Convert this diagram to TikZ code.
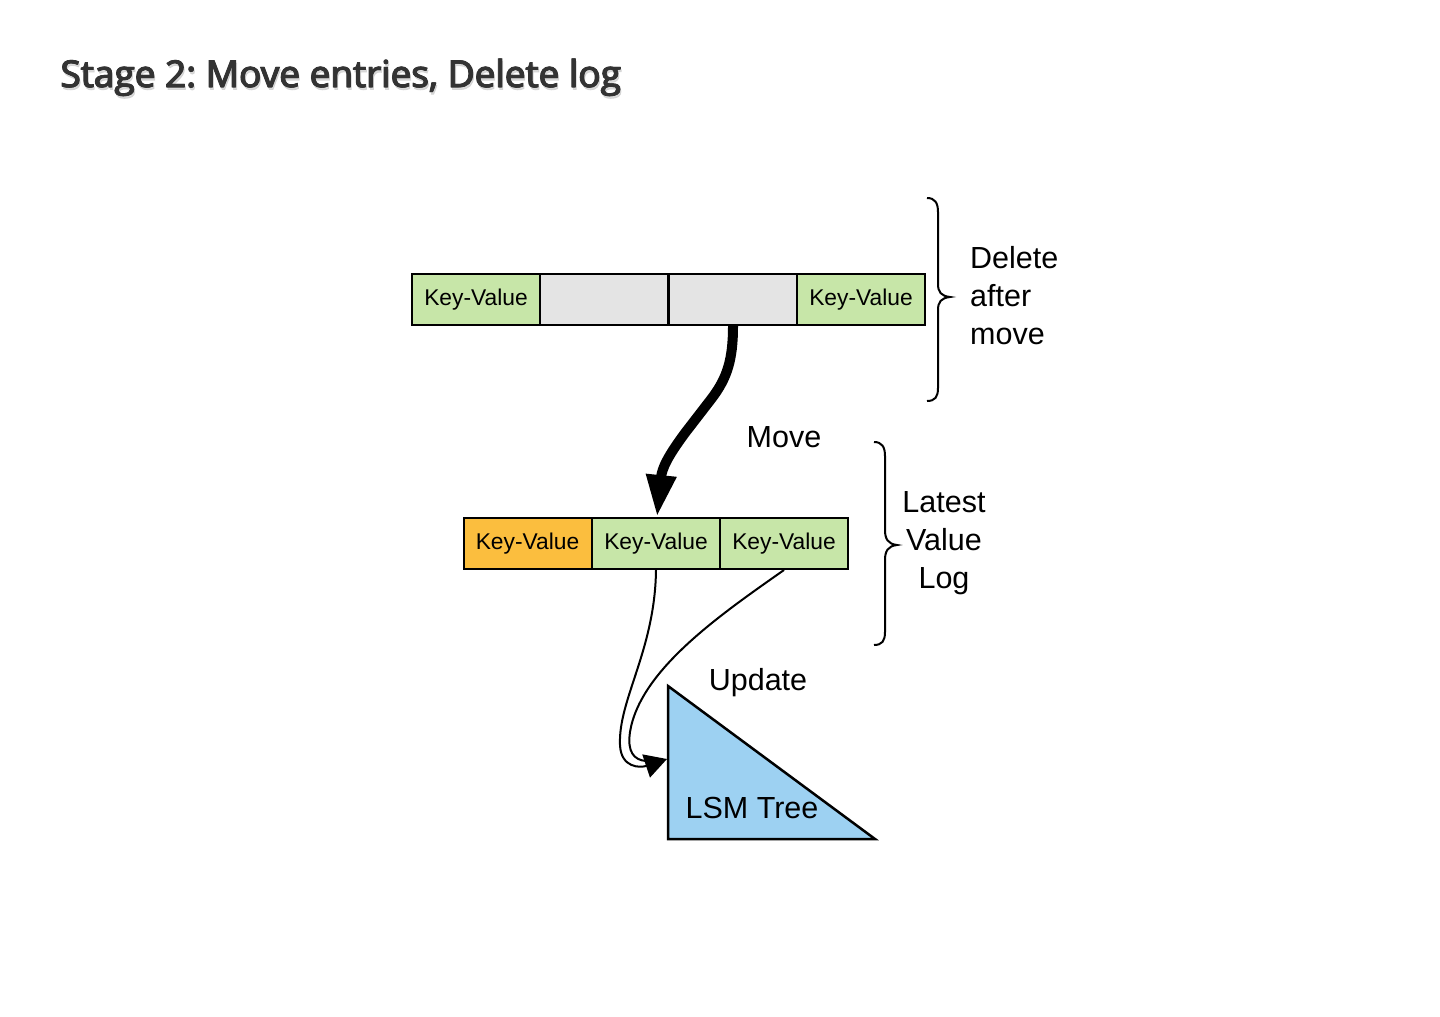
\documentclass[tikz,border=0pt]{standalone}
\usepackage{fontspec}
\setmainfont{Liberation Sans}
\newfontfamily\titlefont[UprightFeatures={FakeBold=2.2}]{Open Sans}
\usetikzlibrary{arrows.meta}
\definecolor{kvgreen}{HTML}{C7E6A8}
\definecolor{kvgray}{HTML}{E4E4E4}
\definecolor{kvorange}{HTML}{FBBE3E}
\definecolor{lsmblue}{HTML}{9DD1F2}
\definecolor{titlegray}{HTML}{333333}
\tikzset{
  cell/.style={draw=black, line width=2pt, minimum width=128pt, minimum height=51pt,
    inner sep=0pt, font=\fontsize{22.8}{26}\selectfont},
  lbl/.style={font=\fontsize{30.5}{38}\selectfont, inner sep=0pt},
  bracepath/.style={draw=black, line width=2pt},
  thin/.style={draw=black, line width=2pt},
  titletext/.style={anchor=base west, inner sep=0pt, font=\titlefont\fontsize{37}{44}\selectfont}
}
\begin{document}
\frenchspacing
\begin{tikzpicture}[x=1pt,y=-1pt]
\useasboundingbox (0,0) rectangle (1440,1017);
\fill[white] (0,0) rectangle (1440,1017);
% title
\node[titletext, text=black!20, opacity=0.7] (titleshadow) at (61.5,89.5) {Stage 2: Move entries, Delete log};
\node[titletext, text=titlegray] (titlebold) at (60.6,87) {Stage 2: Move entries, Delete log};
\node[titletext, text=titlegray] (title) at (60,87) {Stage 2: Move entries, Delete log};
% top bar
\node[cell, fill=kvgreen] (t1) at (476,299.5) {Key-Value};
\node[cell, fill=kvgray]  (t2) at (604,299.5) {};
\node[cell, fill=kvgray]  (t3) at (732.5,299.5) {};
\node[cell, fill=kvgreen] (t4) at (861,299.5) {Key-Value};
% middle bar
\node[cell, fill=kvorange] (m1) at (527.5,543.5) {Key-Value};
\node[cell, fill=kvgreen]  (m2) at (656,543.5) {Key-Value};
\node[cell, fill=kvgreen]  (m3) at (784,543.5) {Key-Value};
% LSM tree
\coordinate (lsmtop) at (668,686);
\coordinate (lsmbl) at (668,839);
\coordinate (lsmbr) at (875,839);
\filldraw[fill=lsmblue, draw=black, line width=2.5pt, line join=miter] (lsmtop) -- (lsmbl) -- (lsmbr) -- cycle;
\node[lbl] (lsm) at (752,808) {LSM Tree};
% braces
\draw[bracepath] (927,198) .. controls (935,198) and (938,203) .. (938,212) -- (938,284)
  .. controls (938,292) and (941,296) .. (950,297) .. controls (941,298) and (938,302) .. (938,310)
  -- (938,388) .. controls (938,397) and (935,401) .. (927,401);
\draw[bracepath] (874,442) .. controls (882,442) and (885,447) .. (885,456) -- (885,530)
  .. controls (885,539) and (888,544) .. (897,545) .. controls (888,546) and (885,551) .. (885,560)
  -- (885,632) .. controls (885,641) and (882,645) .. (874,645);
% labels
\node[lbl, anchor=west, align=left] (dam) at (970,296) {Delete\\after\\move};
\node[lbl, align=center] (lvl) at (944,543) {Latest\\Value\\Log};
\node[lbl] (move) at (784,437) {Move};
\node[lbl] (upd) at (758,683) {Update};
% move arrow
\coordinate (mvstart) at (t3.south -| 733,0);
\coordinate (mvend) at (m2.north -| 657,0);
\draw[line width=10pt, line join=round, -{Triangle[length=42pt,width=28pt]}]
  (mvstart) .. controls (733,360) and (727,378) .. (712,398) -- (685,433)
  .. controls (668,456) and (662,468) .. (mvend);
% update arrows
\coordinate (updtip) at (667,759);
\draw[thin] (m3.south) .. controls (720,615) and (640,670) .. (630,732)
  .. controls (627,752) and (634,760) .. (646,761);
\draw[thin, -{Triangle[length=22pt,width=24pt]}]
  (m2.south) .. controls (655,650) and (618,700) .. (620,745)
  .. controls (621,768) and (640,768) .. (updtip);
\end{tikzpicture}
\end{document}
